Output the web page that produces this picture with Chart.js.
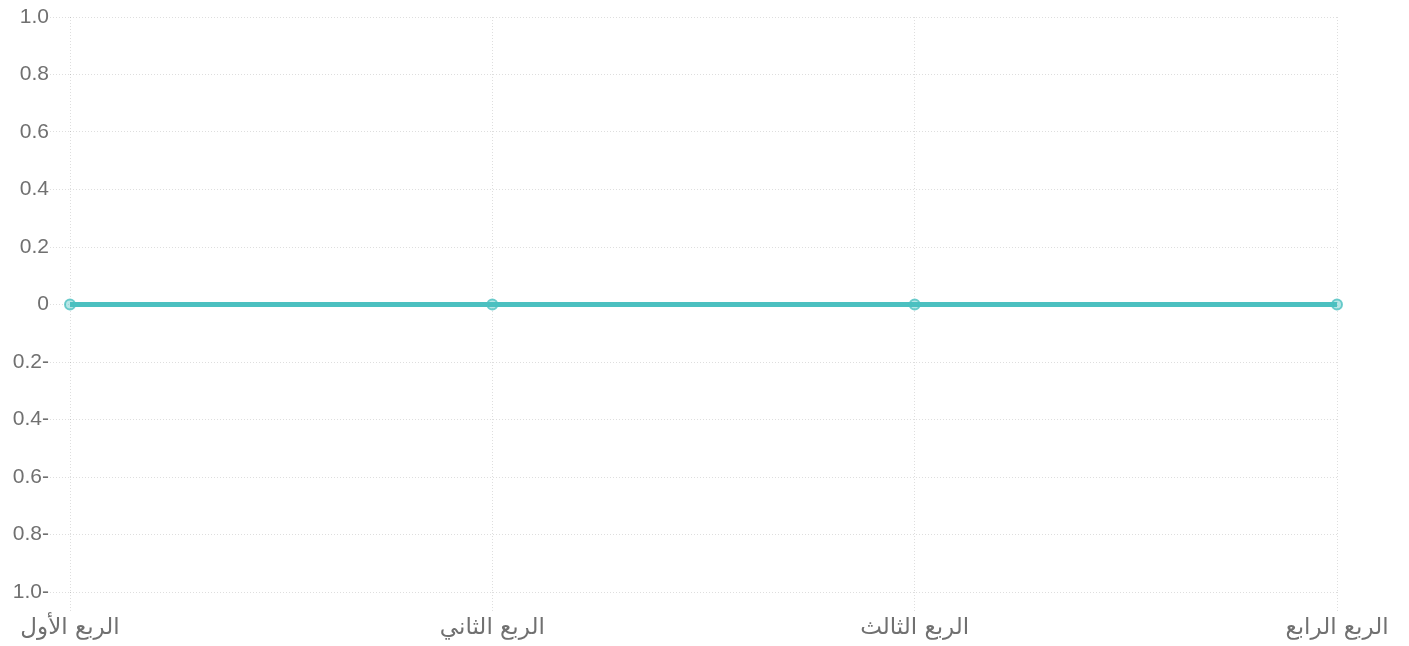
<!DOCTYPE html>
<html>
<head>
<meta charset="utf-8">
<script src="https://cdn.jsdelivr.net/npm/chart.js@4.4.0/dist/chart.umd.min.js"></script>
<style>
html,body{margin:0;padding:0;background:#fff;}
#wrap{position:relative;width:1409px;height:646px;}
</style>
</head>
<body>
<div id="wrap"><canvas id="c"></canvas></div>
<script>
const categories = ['الربع الأول', 'الربع الثاني', 'الربع الثالث', 'الربع الرابع'];
const seriesLabel = 'الإيرادات';
const seriesValues = [0, 0, 0, 0];
const yMin = -1;
const yMax = 1;
const yStep = 0.2;

function fmt(v) {
  const r = Math.round(v * 10) / 10;
  if (r === 0) return '0';
  if (r < 0) return Math.abs(r).toFixed(1) + '-';
  return r.toFixed(1);
}

Chart.defaults.font.family = "'Liberation Sans', Arial, 'DejaVu Sans', sans-serif";
Chart.defaults.font.size = 21;
Chart.defaults.color = '#707070';

const gridCfg = {
  color: 'rgba(0,0,0,0.13)',
  tickLength: 20,
  tickBorderDash: [1, 2],
  lineWidth: 1
};

new Chart(document.getElementById('c'), {
  type: 'line',
  data: {
    labels: categories,
    datasets: [{
      label: seriesLabel,
      data: seriesValues,
      borderColor: 'rgb(75,192,192)',
      backgroundColor: 'rgba(75,192,192,0.4)',
      borderWidth: 5,
      pointRadius: 5,
      pointBorderWidth: 2,
      pointBackgroundColor: 'rgba(75,192,192,0.4)',
      pointBorderColor: 'rgba(75,192,192,0.8)',
      tension: 0,
      fill: false
    }]
  },
  options: {
    responsive: true,
    maintainAspectRatio: false,
    animation: false,
    layout: { padding: { top: 17, right: 72, left: 0, bottom: 0 } },
    plugins: {
      legend: { display: false },
      tooltip: { enabled: false }
    },
    scales: {
      x: {
        grid: Object.assign({}, gridCfg),
        border: { display: false, dash: [1, 2] },
        ticks: { padding: 2, maxRotation: 0, font: { family: "'DejaVu Sans', sans-serif", size: 23 } },
        afterFit: (s) => { s.height = 54; }
      },
      y: {
        min: yMin,
        max: yMax,
        grid: Object.assign({}, gridCfg),
        border: { display: false, dash: [1, 2] },
        ticks: { stepSize: yStep, padding: 1, callback: (v) => fmt(v) },
        afterFit: (s) => { s.width = 70; }
      }
    }
  }
});
</script>
</body>
</html>
